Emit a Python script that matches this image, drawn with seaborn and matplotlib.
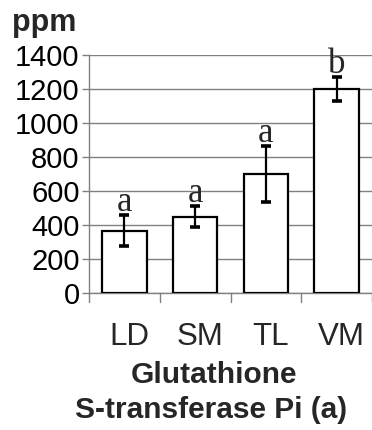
import matplotlib
matplotlib.use("Agg")
import matplotlib.pyplot as plt
import matplotlib.transforms as mtransforms
import seaborn as sns
import pandas as pd

# Glutathione S-transferase Pi (a) levels per tissue
tissues = ["LD", "SM", "TL", "VM"]
means = [366, 450, 700, 1200]
errors = [90, 60, 165, 70]
letters = ["a", "a", "a", "b"]
yticks = [0, 200, 400, 600, 800, 1000, 1200, 1400]

sns.set_theme(style="white")
plt.rcParams["font.family"] = ["Liberation Sans", "DejaVu Sans"]

df = pd.DataFrame({"tissue": tissues, "ppm": means})

W, H = 372, 430
fig = plt.figure(figsize=(W / 100, H / 100), dpi=100)
ax = fig.add_axes([89 / W, 1 - 293 / H, 1 - 89 / W, (293 - 55) / H])

sns.barplot(data=df, x="tissue", y="ppm", color="white", edgecolor="black",
            linewidth=1.6, width=0.63, errorbar=None, ax=ax, zorder=3)
ax.errorbar(range(len(tissues)), means, yerr=errors, fmt="none", ecolor="black",
            elinewidth=1.6, capsize=3.7, capthick=2.6, zorder=4)

# significance letters above the error bars
for i, (m, e, t) in enumerate(zip(means, errors, letters)):
    ax.annotate(t, (i, m + e), xytext=(0, 3), textcoords="offset points",
                ha="center", va="baseline", fontsize=25,
                family=["Liberation Serif", "DejaVu Serif"], zorder=5)

ax.set_xlim(-0.5, 3.5)
ax.set_ylim(0, 1400)
ax.set_yticks(yticks)
ax.set_yticklabels([str(v) for v in yticks], fontsize=21)
ax.set_xticks([])
ax.yaxis.grid(True, color="#808080", linewidth=1.0, zorder=0)
ax.set_axisbelow(True)
for s in ["top", "right"]:
    ax.spines[s].set_visible(False)
for s in ["left", "bottom"]:
    ax.spines[s].set_color("#808080")
    ax.spines[s].set_linewidth(1.0)
ax.tick_params(axis="y", left=True, length=5.2, width=1.0, color="#808080",
               pad=1.5, labelcolor="black")
ax.set_xlabel("")
ax.set_ylabel("")

# category boundary ticks below the axis
for b in [-0.5, 0.5, 1.5, 2.5, 3.5]:
    ax.plot([b, b], [0, -8.5 / 238], transform=ax.get_xaxis_transform(),
            color="#808080", linewidth=1.0, clip_on=False)

# category names
shift = mtransforms.offset_copy(ax.get_xaxis_transform(), fig=fig, x=4.5,
                                y=0, units="dots")
for i, t in enumerate(tissues):
    ax.text(i, -52 / 238, t, transform=shift, ha="center", va="baseline",
            fontsize=22.5)

fig.text(12 / W, 1 - 31 / H, "ppm", fontsize=22, fontweight="bold",
         ha="left", va="baseline")
fig.text(214 / W, 1 - 383 / H, "Glutathione", fontsize=21.5,
         fontweight="bold", ha="center", va="baseline")
fig.text(211 / W, 1 - 418 / H, "S-transferase Pi (a)", fontsize=21.5,
         fontweight="bold", ha="center", va="baseline")

fig.savefig("out.png", dpi=100)
